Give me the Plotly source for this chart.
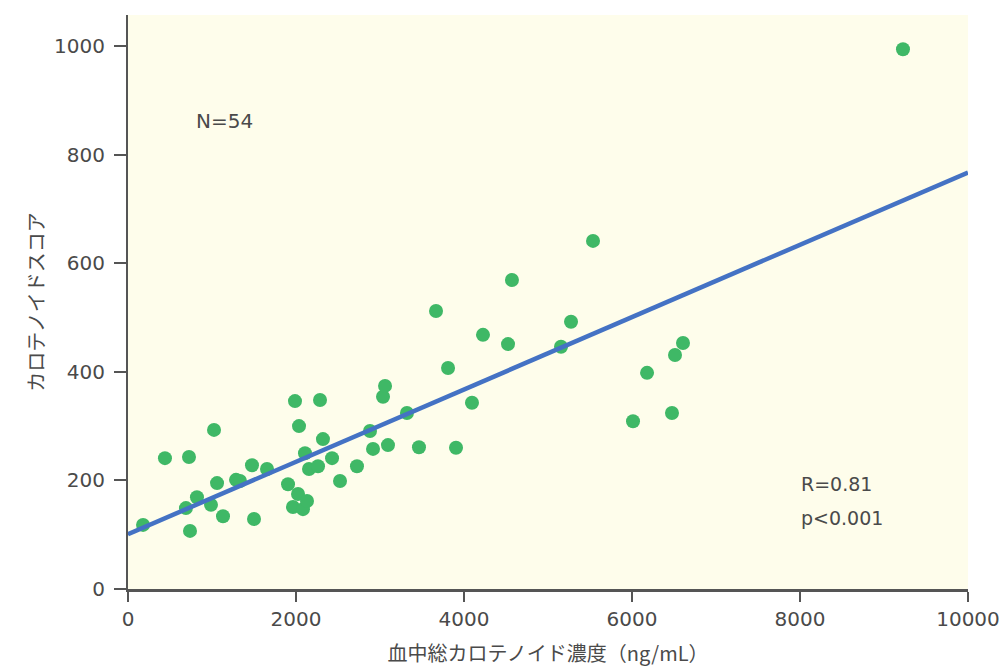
import plotly.graph_objects as go

carotenoid_ng_ml = [179, 440, 726, 1024, 690, 821, 738, 988, 1060, 1131,
                    1286, 1333, 1476, 1500, 1655, 1905, 1964, 1988, 2036, 2024,
                    2083, 2107, 2131, 2155, 2262, 2286, 2321, 2429, 2524, 2726,
                    2881, 2917, 3036, 3060, 3095, 3321, 3464, 3667, 3810, 3905,
                    4095, 4226, 4524, 4571, 5155, 5274, 5536, 6012, 6179, 6476,
                    6512, 6607, 9226]
carotenoid_score = [118, 241, 243, 293, 149, 169, 107, 155, 195, 134,
                    201, 199, 228, 129, 221, 193, 151, 346, 300, 175,
                    147, 250, 162, 221, 226, 348, 276, 241, 199, 226,
                    291, 258, 354, 374, 265, 324, 261, 512, 407, 260,
                    343, 468, 451, 569, 446, 492, 641, 309, 398, 324,
                    431, 453, 994]
fit_x = [0, 10000]
fit_y = [101, 767]
x_ticks = [0, 2000, 4000, 6000, 8000, 10000]
x_tick_labels = ["0", "2000", "4000", "6000", "8000", "10000"]
y_ticks = [0, 200, 400, 600, 800, 1000]
y_tick_labels = ["0", "200", "400", "600", "800", "1000"]

font_jp = "Noto Sans CJK JP"
font_num = "DejaVu Sans"
txt = "#4a4a4a"
fig = go.Figure()
fig.add_trace(go.Scatter(x=carotenoid_ng_ml, y=carotenoid_score, mode="markers",
                         marker=dict(size=14, color="#3fb866", line=dict(width=0)),
                         showlegend=False, cliponaxis=False))
fig.add_trace(go.Scatter(x=fit_x, y=fit_y, mode="lines",
                         line=dict(color="#4472c4", width=4.5), showlegend=False))

fig.update_layout(
    width=999, height=659,
    margin=dict(l=120, r=39, t=7, b=78, autoexpand=False),
    paper_bgcolor="white", plot_bgcolor="#fefdeb",
    font=dict(family=font_num, size=20, color=txt),
    xaxis=dict(range=[0, 10000], tickvals=x_ticks, ticktext=x_tick_labels,
               showgrid=False, zeroline=False, automargin=False,
               showline=True, linecolor="#555555", linewidth=3,
               ticks="outside", ticklen=10, tickcolor="#555555", tickwidth=1.5,
               tickfont=dict(family=font_num, size=20, color=txt),
               title=dict(text="血中総カロテノイド濃度（ng/mL）",
                          font=dict(family=font_jp, size=20, color=txt), standoff=19)),
    yaxis=dict(range=[0, 1057], tickvals=y_ticks, ticktext=y_tick_labels,
               showgrid=False, zeroline=False, automargin=False,
               showline=True, linecolor="#555555", linewidth=2,
               ticks="outside", ticklen=12, tickcolor="#555555", tickwidth=1.5,
               ticklabelstandoff=5,
               tickfont=dict(family=font_num, size=20, color=txt),
               title=dict(text="カロテノイドスコア",
                          font=dict(family=font_jp, size=20, color=txt), standoff=4)),
    annotations=[
        dict(x=780, y=862, xref="x", yref="y", text="N=54", showarrow=False,
             xanchor="left", font=dict(family=font_num, size=20, color=txt)),
        dict(x=7990, y=194, xref="x", yref="y", text="R=0.81", showarrow=False,
             xanchor="left", font=dict(family=font_num, size=19, color=txt)),
        dict(x=7990, y=130, xref="x", yref="y", text="p<0.001", showarrow=False,
             xanchor="left", font=dict(family=font_num, size=19, color=txt)),
    ],
)
fig.write_html("out.html")
